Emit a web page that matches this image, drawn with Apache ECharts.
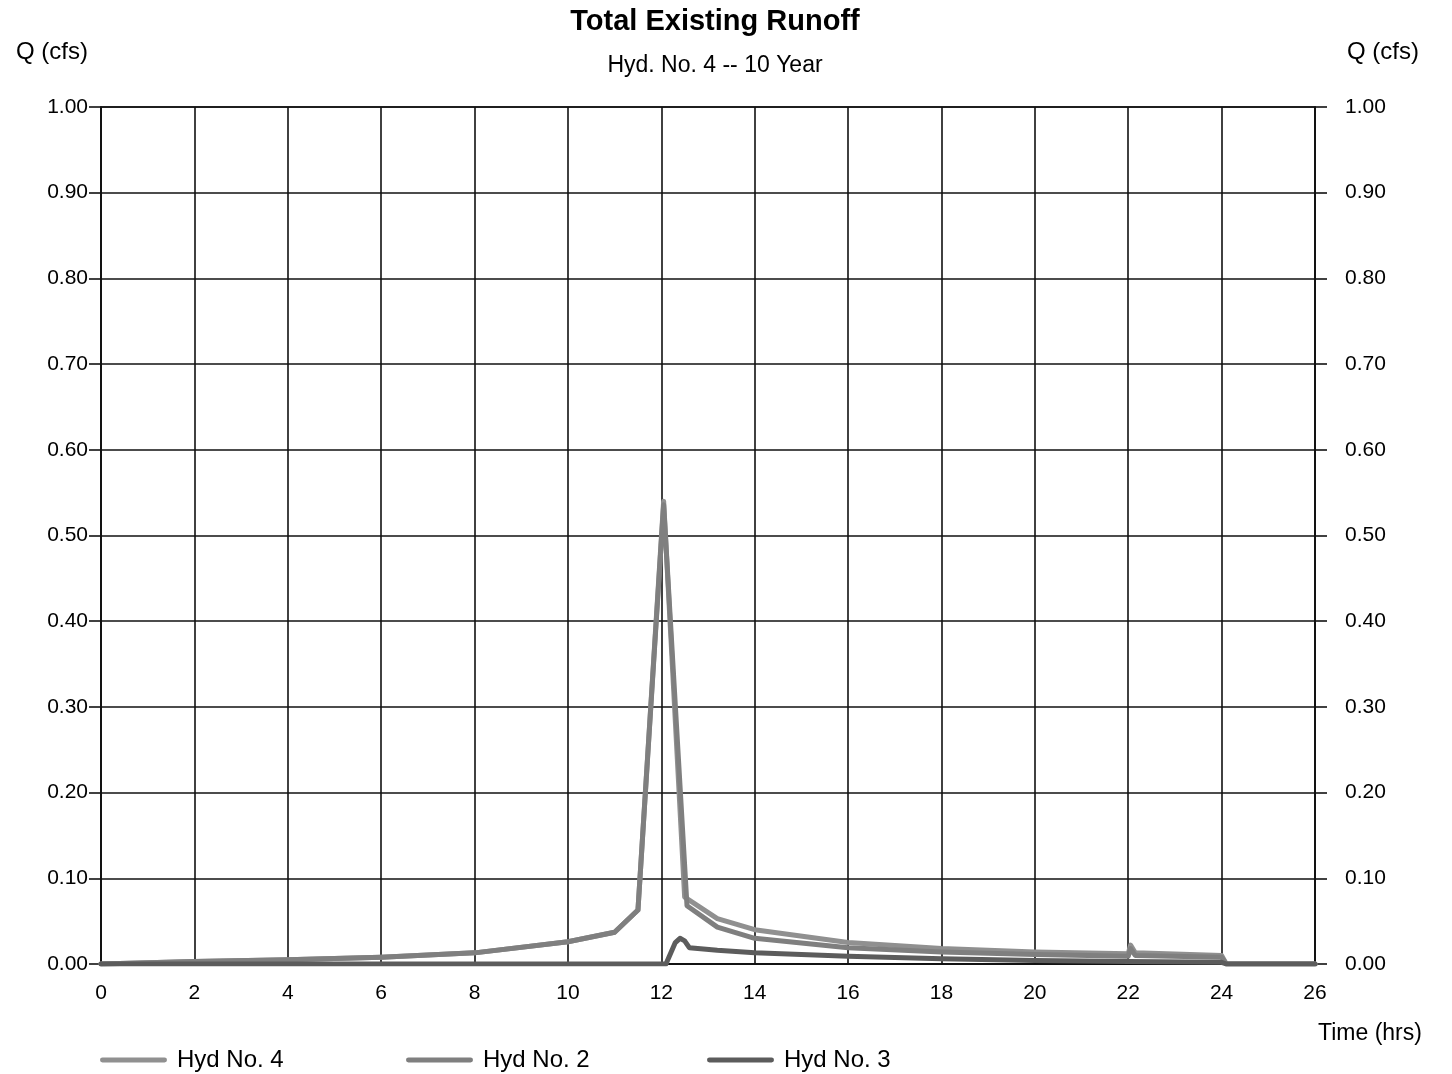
<!DOCTYPE html>
<html>
<head>
<meta charset="utf-8">
<title>Total Existing Runoff</title>
<script src="https://cdn.jsdelivr.net/npm/echarts@6/dist/echarts.min.js"></script>
<style>
  html, body { margin: 0; padding: 0; background: #fff; }
  #chart { width: 1452px; height: 1074px; }
</style>
</head>
<body>
<div id="chart"></div>
<script>
// Hydrograph ordinates: time (hrs) and discharge Q (cfs)
const hyd4Time = [0, 2, 4, 6, 8, 10, 11, 11.5, 12.05, 12.5, 13.2, 14, 16, 18, 20, 22, 22.05, 22.15, 24, 24.1, 26];
const hyd4Flow = [0, 0.003, 0.005, 0.008, 0.013, 0.026, 0.037, 0.063, 0.540, 0.078, 0.053, 0.040, 0.025, 0.018, 0.014, 0.012, 0.022, 0.013, 0.010, 0, 0];

const hyd2Time = [0, 2, 4, 6, 8, 10, 11, 11.5, 12.05, 12.55, 13.2, 14, 16, 18, 20, 22, 22.05, 22.15, 24, 24.1, 26];
const hyd2Flow = [0, 0.003, 0.005, 0.008, 0.013, 0.026, 0.037, 0.063, 0.536, 0.068, 0.043, 0.030, 0.019, 0.014, 0.011, 0.009, 0.018, 0.010, 0.008, 0, 0];

const hyd3Time = [0, 12.1, 12.3, 12.4, 12.5, 12.6, 13.2, 14, 16, 18, 20, 22, 24, 24.1, 26];
const hyd3Flow = [0, 0, 0.025, 0.030, 0.027, 0.019, 0.016, 0.013, 0.009, 0.006, 0.004, 0.003, 0.002, 0, 0];

const seriesNames = ['Hyd No. 4', 'Hyd No. 2', 'Hyd No. 3'];
const seriesColors = ['#909090', '#7f7f7f', '#5c5c5c'];

const pairs = (t, q) => t.map((x, i) => [x, q[i]]);

const FONT = '"Liberation Sans", Arial, sans-serif';
const INK = '#111';
const gridLine = { show: true, lineStyle: { color: INK, width: 1.6 } };

const chart = echarts.init(document.getElementById('chart'), null, { renderer: 'canvas' });

chart.setOption({
  backgroundColor: '#fff',
  animation: false,
  textStyle: { fontFamily: FONT, color: '#000' },
  title: {
    text: 'Total Existing Runoff',
    subtext: 'Hyd. No. 4 -- 10 Year',
    left: 710,
    textAlign: 'center',
    top: 2,
    itemGap: 18,
    textStyle: { fontFamily: FONT, fontSize: 29, fontWeight: 'bold', color: '#000' },
    subtextStyle: { fontFamily: FONT, fontSize: 23, color: '#000' }
  },
  legend: seriesNames.map((name, i) => ({
    data: [name],
    left: [95, 401, 702][i],
    top: 1043,
    itemWidth: 67,
    itemHeight: 14,
    itemGap: 0,
    textStyle: { fontFamily: FONT, fontSize: 24, color: '#000', padding: [0, 0, 0, 5] },
    icon: 'path://M2,4.5 L65,4.5 A2.5,2.5 0 0 1 65,9.5 L2,9.5 A2.5,2.5 0 0 1 2,4.5 Z'
  })),
  grid: { left: 101, right: 137, top: 107, bottom: 110, show: true, borderColor: INK, borderWidth: 1.6 },
  xAxis: {
    type: 'value',
    min: 0, max: 26, interval: 2,
    name: 'Time (hrs)',
    nameLocation: 'end',
    nameGap: 3,
    nameTextStyle: { fontFamily: FONT, fontSize: 23, color: '#000', align: 'left', verticalAlign: 'top', padding: [58, 0, 0, 0] },
    axisLine: { show: true, lineStyle: { color: INK, width: 1.6 } },
    axisTick: { show: false },
    axisLabel: { fontFamily: FONT, fontSize: 21, color: '#000', margin: 19 },
    splitLine: gridLine
  },
  yAxis: [
    {
      type: 'value', position: 'left',
      min: 0, max: 1, interval: 0.1,
      name: 'Q (cfs)',
      nameLocation: 'end',
      nameGap: 55,
      nameTextStyle: { fontFamily: FONT, fontSize: 24, color: '#000', align: 'right', verticalAlign: 'middle', padding: [0, 13, 0, 0] },
      axisLine: { show: true, lineStyle: { color: INK, width: 1.6 } },
      axisTick: { show: true, inside: false, length: 12, lineStyle: { color: INK, width: 1.6 } },
      axisLabel: { fontFamily: FONT, fontSize: 21, color: '#000', margin: 13, formatter: v => v.toFixed(2) },
      splitLine: gridLine
    },
    {
      type: 'value', position: 'right',
      min: 0, max: 1, interval: 0.1,
      name: 'Q (cfs)',
      nameLocation: 'end',
      nameGap: 55,
      nameTextStyle: { fontFamily: FONT, fontSize: 24, color: '#000', align: 'left', verticalAlign: 'middle', padding: [0, 0, 0, 32] },
      axisLine: { show: true, lineStyle: { color: INK, width: 1.6 } },
      axisTick: { show: true, inside: false, length: 12, lineStyle: { color: INK, width: 1.6 } },
      axisLabel: { fontFamily: FONT, fontSize: 21, color: '#000', margin: 30, formatter: v => v.toFixed(2) },
      splitLine: { show: false }
    }
  ],
  series: [
    { name: seriesNames[0], data: pairs(hyd4Time, hyd4Flow) },
    { name: seriesNames[1], data: pairs(hyd2Time, hyd2Flow) },
    { name: seriesNames[2], data: pairs(hyd3Time, hyd3Flow) }
  ].map((s, i) => ({
    ...s,
    type: 'line',
    yAxisIndex: 0,
    symbol: 'none',
    smooth: false,
    color: seriesColors[i],
    lineStyle: { color: seriesColors[i], width: 5, join: 'round', cap: 'round' },
    z: 3 + i
  }))
});
</script>
</body>
</html>
